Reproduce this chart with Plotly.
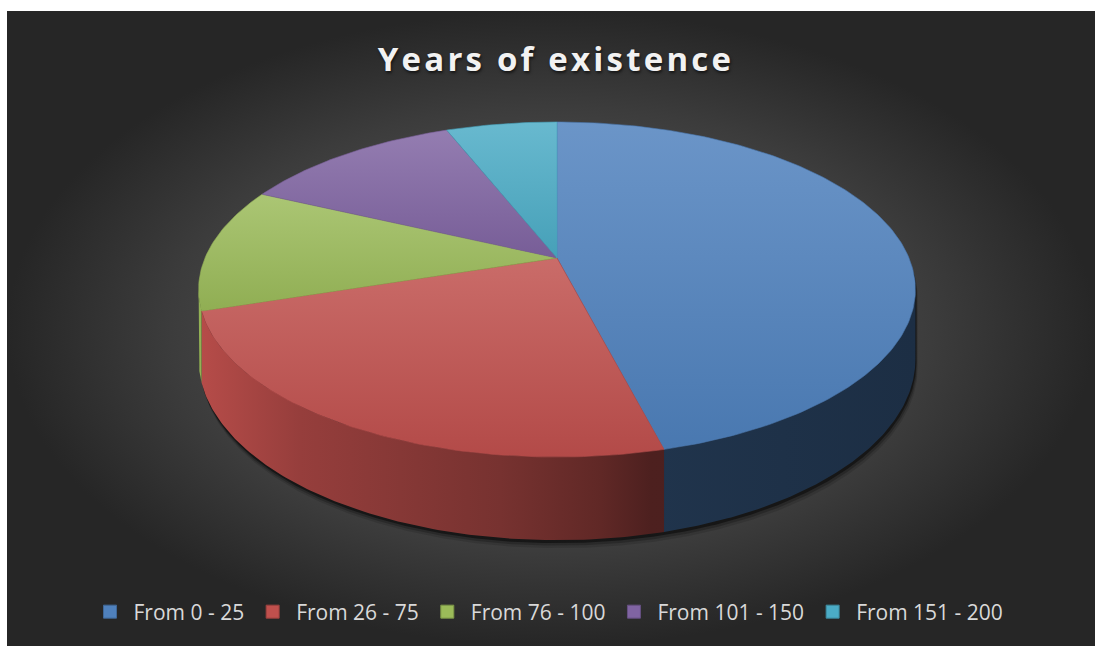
import numpy as np
import plotly.graph_objects as go

# ---------------- data ----------------
categories = ["From 0 - 25", "From 26 - 75", "From 76 - 100", "From 101 - 150", "From 151 - 200"]
values = [23, 12, 6, 6, 3]
colors = ["#4f81bd", "#c0504d", "#9bbb59", "#8064a2", "#4bacc6"]
title_text = "Years of existence"

# ---------------- geometry / style (pixel space) ----------------
W, H = 1095, 646
CX, CY = 557.0, 258.0      # projected pie centre
RA, RB = 352.0, 161.6      # radii
PERSP = 0.188              # perspective factor
DEPTH = 67.5               # thickness


def hex2rgb(h):
    h = h.lstrip("#")
    return np.array([int(h[i:i + 2], 16) for i in (0, 2, 4)], dtype=float)


def rgb(c):
    c = np.clip(np.round(c), 0, 255).astype(int)
    return "rgb(%d,%d,%d)" % tuple(c)


def shade(h, f):
    return rgb(hex2rgb(h) * f)


def tint(h, f):
    c = hex2rgb(h)
    return rgb(c + (255 - c) * f)


def proj(t, drop=0.0):
    u, v = np.cos(t), np.sin(t)
    k = 1.0 / (1.0 - PERSP * v)
    return CX + RA * u * k, CY + (RB * v + drop) * k


fig = go.Figure()

# background with radial gradient
fig.add_trace(go.Scatter(
    x=[7, W, W, 7, 7], y=[11, 11, H, H, 11], mode="lines", fill="toself",
    line=dict(width=0), hoverinfo="skip", showlegend=False,
    fillgradient=dict(type="radial", colorscale=[[0, "#5e5e5e"], [0.4, "#4e4e4e"],
                                                 [0.7, "#3c3c3c"], [1, "#262626"]]),
))

vals = np.array(values, dtype=float)
frac = vals / vals.sum()
cum = np.concatenate([[0], np.cumsum(frac)])
t_start = -np.pi / 2 + 2 * np.pi * cum[:-1]
t_end = -np.pi / 2 + 2 * np.pi * cum[1:]

t_r = np.arcsin(PERSP)
t_l = np.pi - t_r

# shadow under the pie (silhouette)
ts_top = np.linspace(t_l, t_r + 2 * np.pi, 300)
ts_bot = np.linspace(t_r, t_l, 300)
sx1, sy1 = proj(ts_top)
sx2, sy2 = proj(ts_bot, DEPTH)
sil_x = np.concatenate([sx1, sx2])
sil_y = np.concatenate([sy1, sy2])
for off, op in [(8, 0.12), (5.5, 0.22), (3, 0.45)]:
    fig.add_trace(go.Scatter(
        x=sil_x + off * 0.3, y=sil_y + off, mode="lines", fill="toself",
        fillcolor="rgba(0,0,0,%.2f)" % op, line=dict(width=0),
        hoverinfo="skip", showlegend=False,
    ))

# side walls
side_pos = [0, 0.14, 0.28, 0.42, 0.56, 0.63, 1.0]
side_fac = [0.95, 0.78, 0.70, 0.62, 0.50, 0.40, 0.36]
for i, c in enumerate(colors):
    a = max(t_start[i], t_r)
    b = min(t_end[i], t_l)
    if b - a < 0.05:
        continue
    ts = np.linspace(a, b, 120)
    x1, y1 = proj(ts)
    x2, y2 = proj(ts[::-1], DEPTH)
    xs = np.concatenate([x1, x2, x1[:1]])
    ys = np.concatenate([y1, y2, y1[:1]])
    cs = [[p, shade(c, f)] for p, f in zip(side_pos, side_fac)]
    fig.add_trace(go.Scatter(
        x=xs, y=ys, mode="lines", fill="toself", line=dict(width=0),
        fillgradient=dict(type="horizontal", start=200, stop=916, colorscale=cs),
        hoverinfo="skip", showlegend=False,
    ))

# top faces
for i, c in enumerate(colors):
    n = max(int(400 * frac[i]), 8)
    ts = np.linspace(t_start[i], t_end[i], n)
    x1, y1 = proj(ts)
    xs = np.concatenate([[CX], x1, [CX]])
    ys = np.concatenate([[CY], y1, [CY]])
    fig.add_trace(go.Scatter(
        x=xs, y=ys, mode="lines", fill="toself",
        line=dict(width=0.6, color=shade(c, 0.95)),
        fillgradient=dict(type="vertical", colorscale=[[0, shade(c, 0.93)], [1, tint(c, 0.16)]]),
        name=categories[i], hoveron="fills",
        text="%s: %g (%.0f%%)" % (categories[i], values[i], 100 * frac[i]),
        hoverinfo="text", showlegend=False,
    ))

# legend entries
for i, c in enumerate(colors):
    fig.add_trace(go.Scatter(
        x=[None], y=[None], mode="markers", name=categories[i],
        marker=dict(symbol="square", size=13, color=c, line=dict(width=1, color=shade(c, 0.8))),
        showlegend=True,
    ))

fig.update_layout(
    width=W, height=H, autosize=False,
    margin=dict(l=0, r=0, t=0, b=0),
    paper_bgcolor="white", plot_bgcolor="white",
    xaxis=dict(range=[0, W], visible=False, fixedrange=True),
    yaxis=dict(range=[H, 0], visible=False, fixedrange=True),
    title=dict(
        text='<b><span style="letter-spacing:3.2px">%s</span></b>' % title_text,
        x=556 / W, xanchor="center",
        y=1 - 59 / H, yanchor="middle", yref="container",
        font=dict(family="Open Sans", size=33, color="#f2f2f2",
                  shadow="1px 2px 3px rgba(0,0,0,0.6)"),
    ),
    legend=dict(
        orientation="h", x=0.5, xanchor="center", y=1 - 612 / H, yanchor="middle",
        bgcolor="rgba(0,0,0,0)", font=dict(family="Open Sans", size=21, color="#d9d9d9"),
        itemwidth=37, itemclick=False, itemdoubleclick=False,
    ),
    showlegend=True,
)

fig.write_html("out.html")
